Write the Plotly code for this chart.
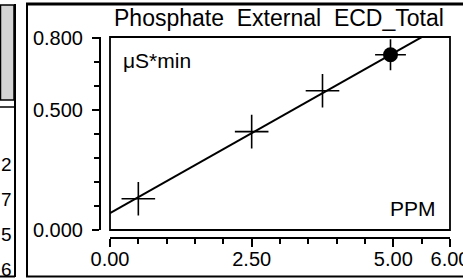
import plotly.graph_objects as go

# ---- data ----
std_ppm = [0.5, 2.5, 3.75]          # calibration standards (crosses)
std_area = [0.13, 0.41, 0.58]
sample_ppm = [4.95]                 # sample (filled circle)
sample_area = [0.73]
fit_ppm = [0.0, 6.0]                # calibration line end points
fit_area = [0.07, 0.87]

x_tickvals = [0.0, 2.5, 5.0, 6.0]
x_ticktext = ["0.00", "2.50", "5.00", "6.00"]
x_minor = [0.5, 1.0, 1.5, 2.0, 3.0, 3.5, 4.0, 4.5, 5.5]
y_tickvals = [0.0, 0.5, 0.8]
y_ticktext = ["0.000", "0.500", "0.800"]
y_minor = [0.1, 0.2, 0.3, 0.4, 0.6, 0.7]

left_numbers = ["2", "7", "5", "6"]

W, H = 463, 279
ML, MR, MT, MB = 100, 13, 37, 41
PW, PH = W - ML - MR, H - MT - MB


def px(x):
    return (x - ML) / PW


def py(y):
    return (H - MB - y) / PH


FONT = "Arial, Liberation Sans, sans-serif"

fig = go.Figure()
fig.add_trace(go.Scatter(x=fit_ppm, y=fit_area, mode="lines",
                         line=dict(color="black", width=2), showlegend=False))
fig.add_trace(go.Scatter(x=std_ppm, y=std_area, mode="markers",
                         marker=dict(symbol="cross-thin", size=24,
                                     line=dict(color="black", width=1.6)),
                         showlegend=False))
fig.add_trace(go.Scatter(x=sample_ppm, y=sample_area, mode="markers",
                         marker=dict(symbol="cross-thin", size=22,
                                     line=dict(color="black", width=1.6)),
                         showlegend=False))
fig.add_trace(go.Scatter(x=sample_ppm, y=sample_area, mode="markers",
                         marker=dict(symbol="circle", size=15, color="black"),
                         showlegend=False))

fig.update_layout(
    template="none",
    width=W, height=H,
    margin=dict(l=ML, r=MR, t=MT, b=MB, autoexpand=False),
    paper_bgcolor="white", plot_bgcolor="white",
    font=dict(family=FONT, color="black", size=20),
    xaxis=dict(domain=[px(110), 1], range=[0, 6], anchor="free", position=0,
               automargin=False, ticklabeloverflow="allow",
               showline=True, linecolor="black", linewidth=2,
               showgrid=False, zeroline=False,
               tickmode="array", tickvals=x_tickvals, ticktext=x_ticktext,
               ticks="outside", ticklen=8, tickwidth=2, tickcolor="black",
               tickfont=dict(size=20), ticklabelstandoff=-5,
               minor=dict(tickmode="array", tickvals=x_minor, ticks="outside",
                          ticklen=5, tickwidth=2, tickcolor="black",
                          showgrid=False)),
    yaxis=dict(domain=[py(230), 1], range=[0, 0.804], anchor="free", position=0,
               automargin=False, ticklabeloverflow="allow",
               showline=True, linecolor="black", linewidth=2,
               showgrid=False, zeroline=False,
               tickmode="array", tickvals=y_tickvals, ticktext=y_ticktext,
               ticks="outside", ticklen=7, tickwidth=2, tickcolor="black",
               tickfont=dict(size=20), ticklabelstandoff=5,
               minor=dict(tickmode="array", tickvals=y_minor, ticks="outside",
                          ticklen=5, tickwidth=2, tickcolor="black",
                          showgrid=False)),
)

shapes = []
# inner plot box
shapes.append(dict(type="rect", xref="paper", yref="paper",
                   x0=px(110), x1=px(450), y0=py(230), y1=py(37),
                   line=dict(color="black", width=1.8)))
# outer frame of the main panel
shapes.append(dict(type="line", xref="paper", yref="paper",
                   x0=px(27), x1=px(27), y0=py(4), y1=py(277),
                   line=dict(color="black", width=2)))
shapes.append(dict(type="line", xref="paper", yref="paper",
                   x0=px(26), x1=px(463), y0=py(4), y1=py(4),
                   line=dict(color="black", width=3)))
shapes.append(dict(type="line", xref="paper", yref="paper",
                   x0=px(26), x1=px(463), y0=py(276.5), y1=py(276.5),
                   line=dict(color="black", width=2)))
# left neighbouring panel
shapes.append(dict(type="rect", xref="paper", yref="paper",
                   x0=px(0.5), x1=px(14), y0=py(100), y1=py(5),
                   fillcolor="#d4d4d4", line=dict(color="black", width=1.5)))
shapes.append(dict(type="line", xref="paper", yref="paper",
                   x0=px(0), x1=px(15), y0=py(107), y1=py(107),
                   line=dict(color="black", width=1.5)))
shapes.append(dict(type="line", xref="paper", yref="paper",
                   x0=px(15), x1=px(15), y0=py(4), y1=py(277),
                   line=dict(color="black", width=2)))
shapes.append(dict(type="line", xref="paper", yref="paper",
                   x0=px(0), x1=px(15), y0=py(276.5), y1=py(276.5),
                   line=dict(color="black", width=2)))
fig.update_layout(shapes=shapes)

ann = [
    dict(text="Phosphate  External  ECD_Total", x=px(279), y=py(18),
         xanchor="center", yanchor="middle", font=dict(size=23)),
    dict(text="μS*min", x=px(121), y=py(60), xanchor="left", yanchor="middle",
         font=dict(size=21)),
    dict(text="PPM", x=px(438), y=py(208), xanchor="right", yanchor="middle",
         font=dict(size=21)),
]
for t, yc in zip(left_numbers, [164, 199, 234, 269]):
    ann.append(dict(text=t, x=px(14), y=py(yc), xanchor="right",
                    yanchor="middle", font=dict(size=19)))
for a in ann:
    a.update(xref="paper", yref="paper", showarrow=False)
fig.update_layout(annotations=ann)

# remove the browser's default 8px page margin so the figure fills the window
fig.write_html("out.html",
               config={"displayModeBar": False},
               post_script="document.body.style.margin='0';"
                           "document.body.style.overflow='hidden';")
